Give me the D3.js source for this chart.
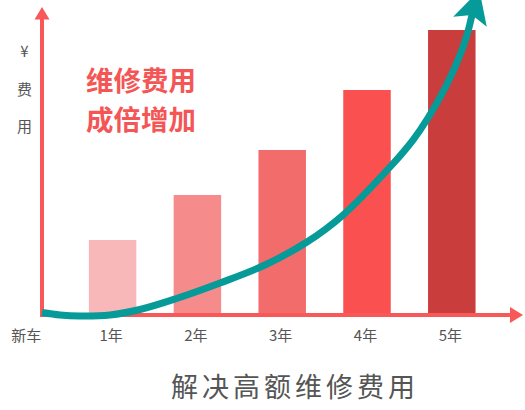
<!DOCTYPE html>
<html><head><meta charset="utf-8">
<script src="https://cdn.jsdelivr.net/npm/d3@7/dist/d3.min.js"></script>
<style>
html,body{margin:0;padding:0;background:#fff;}
svg{display:block;font-family:"Noto Sans CJK SC","Noto Sans",sans-serif;}
</style></head>
<body>
<svg id="chart" width="525" height="410"></svg>
<script>
// ---- data ----
const categories = ["新车", "1年", "2年", "3年", "4年", "5年"];
const barValues = [null, 25, 40, 55, 75, 95];
const barColors = [null, "#f8b8b9", "#f58b8b", "#f26c6c", "#fb5050", "#c93d3d"];
const yLabels = ["¥", "费", "用"];
const headline = ["维修费用", "成倍增加"];
const title = "解决高额维修费用";
// trend curve: x in year units, y in value units
const curveX = [0.167, 0.38, 0.616, 0.969, 1.323, 1.736, 2.267, 2.797, 3.292, 3.717, 4.271, 4.542, 4.719, 4.932, 5.097, 5.179, 5.238];
const curveY = [0.83, 0, -0.33, 0, 1.83, 5.33, 10.67, 16.67, 24.33, 33.33, 49.33, 58.33, 65.67, 76.33, 86.67, 93.33, 100];

// ---- layout ----
const svg = d3.select("#chart");
const axisColor = "#f85858";
const teal = "#069a98";
const x = d3.scaleBand().domain(categories).range([-14.6, 494.2]).paddingInner(0.44).paddingOuter(0.22);
const xl = d3.scaleLinear().domain([0, 5]).range([x(categories[0]) + x.bandwidth() / 2, x(categories[5]) + x.bandwidth() / 2]);
const y = d3.scaleLinear().domain([0, 100]).range([315, 15]);

// bars
svg.append("g").selectAll("rect")
  .data(categories.map((c, i) => ({ c, v: barValues[i], col: barColors[i] })).filter(d => d.v != null))
  .join("rect")
  .attr("x", d => x(d.c))
  .attr("width", x.bandwidth())
  .attr("y", d => y(d.v))
  .attr("height", d => y(0) - y(d.v))
  .attr("fill", d => d.col);

// axes lines with arrows
const ax = svg.append("g");
ax.append("line").attr("x1", 42).attr("x2", 42).attr("y1", y(0) + 2).attr("y2", 18)
  .attr("stroke", axisColor).attr("stroke-width", 4);
ax.append("path").attr("d", "M42,7 L34.5,19.5 L49.5,19.5 Z").attr("fill", axisColor);
ax.append("line").attr("x1", 40).attr("x2", 512).attr("y1", y(0)).attr("y2", y(0))
  .attr("stroke", axisColor).attr("stroke-width", 4);
ax.append("path").attr("d", `M523,${y(0)} L510,${y(0) - 8} L510,${y(0) + 8} Z`).attr("fill", axisColor);

// x tick labels via d3 axis
const gx = svg.append("g").attr("transform", `translate(0,${y(0)})`)
  .call(d3.axisBottom(x).tickSize(0).tickPadding(15.5));
gx.select(".domain").remove();
gx.selectAll("text").attr("font-size", 15).attr("fill", "#555").attr("dx", -1.5)
  .attr("font-family", '"Noto Sans CJK SC","Noto Sans",sans-serif');

// y labels
svg.append("g").selectAll("text").data(yLabels).join("text")
  .attr("x", 24.5).attr("y", (d, i) => 57 + i * 37.5)
  .attr("text-anchor", "middle").attr("font-size", 15).attr("fill", "#555")
  .text(d => d);

// headline
svg.append("g").selectAll("text").data(headline).join("text")
  .attr("x", 86).attr("y", (d, i) => 91 + i * 39)
  .attr("font-size", 27.5).attr("font-weight", "bold").attr("fill", "#f45656")
  .text(d => d);

// trend curve with arrow
const pts = curveX.map((v, i) => [xl(v), y(curveY[i])]);
svg.append("path")
  .attr("d", d3.line().curve(d3.curveCatmullRom.alpha(0.5))(pts))
  .attr("fill", "none").attr("stroke", teal).attr("stroke-width", 7);
const n = pts.length;
const ang = Math.atan2(pts[n - 1][1] - pts[n - 3][1], pts[n - 1][0] - pts[n - 3][0]) * 180 / Math.PI;
svg.append("path")
  .attr("d", "M-7,-17.5 L26,0 L-7,17.5 L0,0 Z")
  .attr("transform", `translate(${pts[n - 1][0]},${pts[n - 1][1]}) rotate(${ang})`)
  .attr("fill", teal);

// bottom title
svg.append("text").attr("x", 171).attr("y", 397)
  .attr("font-size", 27).attr("letter-spacing", "4px").attr("fill", "#555")
  .text(title);
</script>
</body></html>
